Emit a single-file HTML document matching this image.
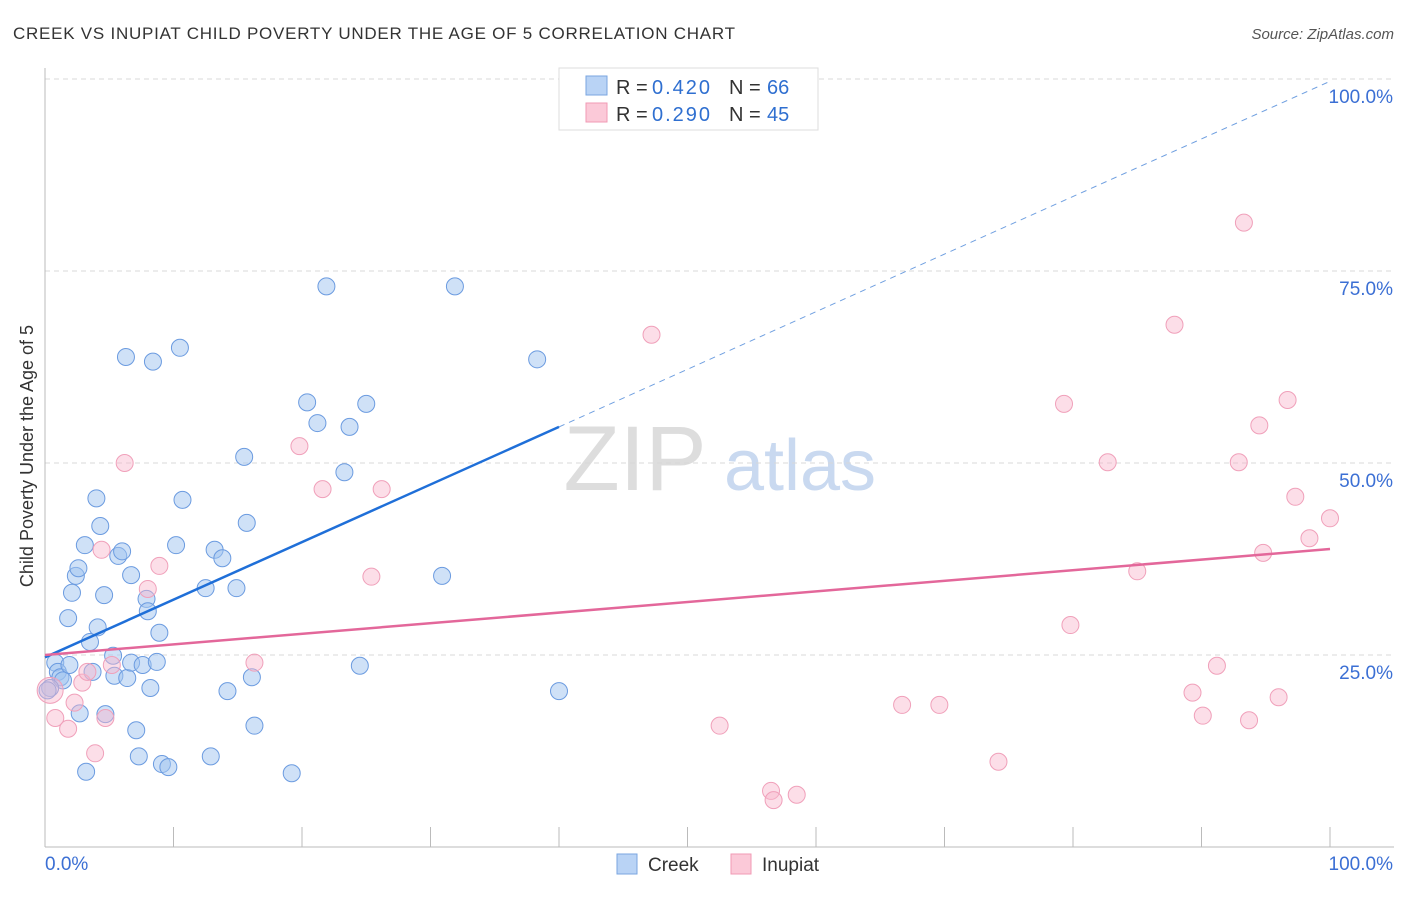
<!DOCTYPE html>
<html><head><meta charset="utf-8"><style>
body{margin:0;background:#fff;font-family:"Liberation Sans",sans-serif;}
svg text{font-family:"Liberation Sans",sans-serif;}
</style></head><body>
<svg id="chart" width="1406" height="892" xmlns="http://www.w3.org/2000/svg">
<text x="13" y="39" font-size="17" fill="#333" textLength="722">CREEK VS INUPIAT CHILD POVERTY UNDER THE AGE OF 5 CORRELATION CHART</text>
<text x="1394" y="39" font-size="15" fill="#555" font-style="italic" text-anchor="end">Source: ZipAtlas.com</text>
<text transform="translate(33,456) rotate(-90)" font-size="18" fill="#333" text-anchor="middle">Child Poverty Under the Age of 5</text>
<g><text x="635" y="490" font-size="92" fill="#ddd" font-family="Liberation Serif" text-anchor="middle">ZIP</text><text x="800" y="490" font-size="72" fill="#c9d9f0" text-anchor="middle">atlas</text></g>
<g id="grid"></g><g id="axes"></g><g id="pts"></g><g id="lines"></g>
<g>
<rect x="559" y="68" width="259" height="62" fill="#fff" stroke="#ddd"/>
<rect x="586" y="76" width="21" height="19" fill="#b9d3f5" stroke="#7aa6e0"/>
<rect x="586" y="103" width="21" height="19" fill="#fbc9d8" stroke="#f09ab4"/>
<text x="616" y="94" font-size="20" fill="#333">R =</text>
<text x="652" y="94" font-size="20" fill="#2f6fd0" textLength="58">0.420</text>
<text x="729" y="94" font-size="20" fill="#333">N =</text>
<text x="767" y="94" font-size="20" fill="#2f6fd0">66</text>
<text x="616" y="121" font-size="20" fill="#333">R =</text>
<text x="652" y="121" font-size="20" fill="#2f6fd0" textLength="58">0.290</text>
<text x="729" y="121" font-size="20" fill="#333">N =</text>
<text x="767" y="121" font-size="20" fill="#2f6fd0">45</text>
</g>
<g>
<rect x="617" y="854" width="20" height="20" fill="#b9d3f5" stroke="#7aa6e0"/>
<text x="648" y="871" font-size="19" fill="#333">Creek</text>
<rect x="731" y="854" width="20" height="20" fill="#fbc9d8" stroke="#f09ab4"/>
<text x="762" y="871" font-size="19" fill="#333">Inupiat</text>
</g>
</svg>
<script>
const creekX=[0.8,1.0,1.2,1.4,0.4,0.2,1.9,3.7,1.8,2.1,2.4,2.6,3.1,4.3,4.0,4.6,5.7,6.0,6.7,7.9,8.0,8.9,3.5,4.1,5.3,5.4,6.4,6.7,7.6,8.7,8.2,2.7,4.7,7.1,7.3,9.1,9.6,3.2,12.9,19.2,14.2,16.1,16.3,10.7,10.2,13.2,13.8,12.5,14.9,15.7,15.5,6.3,8.4,10.5,21.9,31.9,38.3,20.4,21.2,23.7,25.0,23.3,30.9,24.5,40.0];
const creekY=[24.0,22.8,22.1,21.7,20.7,20.4,23.7,22.8,29.8,33.1,35.3,36.3,39.3,41.8,45.4,32.8,37.9,38.5,35.4,32.3,30.7,27.9,26.7,28.6,24.9,22.3,22.0,24.0,23.7,24.1,20.7,17.4,17.3,15.2,11.8,10.8,10.4,9.8,11.8,9.6,20.3,22.1,15.8,45.2,39.3,38.7,37.6,33.7,33.7,42.2,50.8,63.8,63.2,65.0,73.0,73.0,63.5,57.9,55.2,54.7,57.7,48.8,35.3,23.6,20.3];
const inuX=[0.4,0.8,1.8,2.3,2.9,3.3,3.9,4.7,5.2,4.4,6.2,8.0,8.9,16.3,19.8,21.6,26.2,25.4,47.2,52.5,56.5,56.7,58.5,66.7,69.6,74.2,79.3,79.8,82.7,85.0,87.9,89.3,90.1,91.2,92.9,93.3,93.7,94.5,94.8,96.0,96.7,97.3,98.4,100];
const inuY=[20.4,16.8,15.4,18.8,21.4,22.8,12.2,16.8,23.7,38.7,50.0,33.6,36.6,24.0,52.2,46.6,46.6,35.2,66.7,15.8,7.3,6.1,6.8,18.5,18.5,11.1,57.7,28.9,50.1,35.9,68.0,20.1,17.1,23.6,50.1,81.3,16.5,54.9,38.3,19.5,58.2,45.6,40.2,42.8];
const yTicks=[25,50,75,100];
const yTickLabels=["25.0%","50.0%","75.0%","100.0%"];
const xTicks=[0,10,20,30,40,50,60,70,80,90,100];
const creekLine=[24.7,99.7];
const inuLine=[25.0,38.8];
const X=v=>45+v*12.85, Y=v=>847-v*7.68;
const NS="http://www.w3.org/2000/svg";
function mk(p,t,a){const e=document.createElementNS(NS,t);for(const k in a)e.setAttribute(k,a[k]);p.appendChild(e);return e;}
const g=document.getElementById('grid'),ax=document.getElementById('axes'),pts=document.getElementById('pts'),ln=document.getElementById('lines');
yTicks.forEach((t,i)=>{const l=mk(g,'line',{x1:45,x2:1394,y1:Y(t),y2:Y(t),stroke:'#d8d8d8','stroke-dasharray':'5,4'});


const tx=mk(g,'text',{x:1393,y:Y(t)+24,'font-size':19,fill:'#3b6fd4','text-anchor':'end'});tx.textContent=yTickLabels[i];

});
let a=mk(ax,'line',{x1:45,x2:45,y1:68,y2:847,stroke:'#bbb'});


a=mk(ax,'line',{x1:45,x2:1394,y1:847,y2:847,stroke:'#bbb'});


xTicks.forEach(t=>{const l=mk(ax,'line',{x1:X(t),x2:X(t),y1:827,y2:847,stroke:'#bbb'});

});
let t1=mk(ax,'text',{x:45,y:870,'font-size':19,fill:'#3b6fd4'});t1.textContent='0.0%';


t1=mk(ax,'text',{x:1393,y:870,'font-size':19,fill:'#3b6fd4','text-anchor':'end'});t1.textContent='100.0%';


creekX.forEach((x,i)=>{const c=mk(pts,'circle',{cx:X(x),cy:Y(creekY[i]),r:8.5,fill:'rgba(160,196,240,0.5)',stroke:'#6b9be0','stroke-width':1});

});
inuX.forEach((x,i)=>{const c=mk(pts,'circle',{cx:X(x),cy:Y(inuY[i]),r:i==0?13:8.5,fill:'rgba(249,182,204,0.45)',stroke:'#f0a0ba','stroke-width':1});

});
const cy=x=>creekLine[0]+(creekLine[1]-creekLine[0])*x/100;
let l=mk(ln,'line',{x1:X(0),y1:Y(cy(0)),x2:X(40),y2:Y(cy(40)),stroke:'#1f6fd8','stroke-width':2.5});


l=mk(ln,'line',{x1:X(40),y1:Y(cy(40)),x2:X(100),y2:Y(cy(100)),stroke:'#6f9fe0','stroke-width':1,'stroke-dasharray':'6,5'});


l=mk(ln,'line',{x1:X(0),y1:Y(inuLine[0]),x2:X(100),y2:Y(inuLine[1]),stroke:'#e3679a','stroke-width':2.5});


</script>
</body></html>
